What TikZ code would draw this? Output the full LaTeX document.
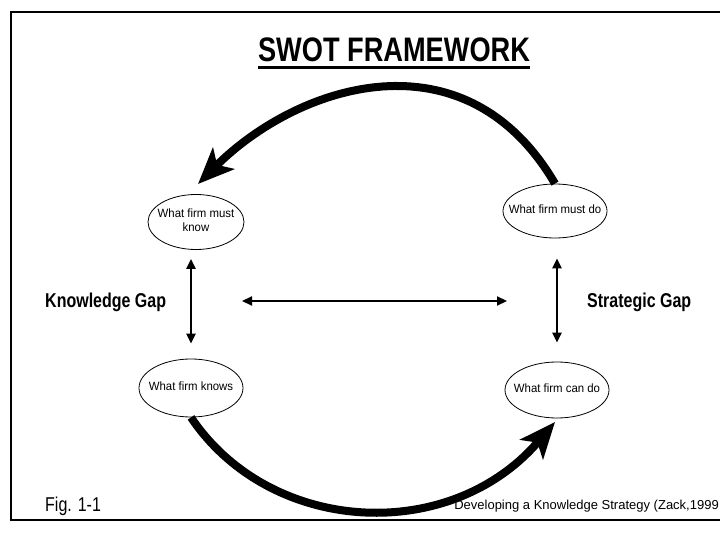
\documentclass[tikz,border=0pt]{standalone}
\usepackage{fontspec}
\setmainfont{Liberation Sans}
\newfontfamily\narrowsans[FakeStretch=0.8]{Liberation Sans}
\newfontfamily\bubblesans[FakeStretch=0.95]{Liberation Sans}
\usetikzlibrary{arrows.meta,shapes.geometric}

% text that may run close to the ellipse border
\newcommand{\bubbletext}[1]{\makebox[0pt]{\begin{tabular}{@{}c@{}}#1\end{tabular}}}

\tikzset{
  bubble/.style={draw, ellipse, line width=0.8pt, minimum width=100pt,
    minimum height=55pt, inner sep=0pt,
    font=\bubblesans\fontsize{12}{13.5}\selectfont},
  gaplabel/.style={anchor=base west, inner sep=0pt,
    font=\narrowsans\bfseries\fontsize{20}{24}\selectfont},
  gaparrow/.style={line width=2.2pt,
    {Triangle[length=10pt,width=9pt]}-{Triangle[length=10pt,width=9pt]}},
  cyclearrow/.style={line width=8pt,
    -{Stealth[length=36pt,width=30pt,inset=9pt]}}
}

\begin{document}
\begin{tikzpicture}[x=1pt,y=-1pt]
\useasboundingbox (0,0) rectangle (720,537);
\draw[line width=2.5pt] (724,12) -- (11,12) -- (11,520) -- (724,520);
\node[anchor=base, inner sep=0pt, font=\narrowsans\bfseries\fontsize{34}{40}\selectfont]
  (title) at (394,62) {SWOT FRAMEWORK};
\draw[line width=3pt] ([yshift=-5pt]title.south west) -- ([yshift=-5pt]title.south east);

% the four states
\node[bubble, minimum width=96pt] (mustknow) at (196,222) {\bubbletext{What firm must\\know}};
\node[bubble, minimum width=104pt, minimum height=54pt] (mustdo) at (555,211) {\bubbletext{What firm must do}};
\node[bubble, minimum width=104pt, minimum height=58pt] (knows) at (191,388) {\bubbletext{What firm knows}};
\node[bubble, minimum width=104pt, minimum height=56pt] (cando) at (557,390) {\bubbletext{What firm can do}};

% gaps
\node[gaplabel] (knowgap) at (45,308) {Knowledge Gap};
\node[gaplabel] (stratgap) at (587,308) {Strategic Gap};
\coordinate (leftend) at (242,301);
\coordinate (rightend) at (507,301);
\draw[gaparrow, shorten <=9pt, shorten >=15pt] (mustknow.south -| knows.north) -- (knows.north);
\draw[gaparrow, shorten <=20pt, shorten >=19pt] (mustdo.south -| cando.north) -- (cando.north);
\draw[gaparrow] (leftend) -- (rightend);

% the cycle
\coordinate (toptip) at (198,184);
\coordinate (bottomtip) at (555,422);
\draw[cyclearrow] (mustdo.north) .. controls (465,30) and (298,84) .. (toptip);
\draw[cyclearrow] (knows.south) .. controls (270,535) and (450,545) .. (bottomtip);

\node[anchor=base west, inner sep=0pt, font=\narrowsans\fontsize{20}{24}\selectfont] (fig) at (45,511) {Fig. 1-1};
\node[anchor=base east, inner sep=0pt, font=\fontsize{13}{15}\selectfont] (source) at (719,509)
  {Developing a Knowledge Strategy (Zack,1999};
\end{tikzpicture}
\end{document}
